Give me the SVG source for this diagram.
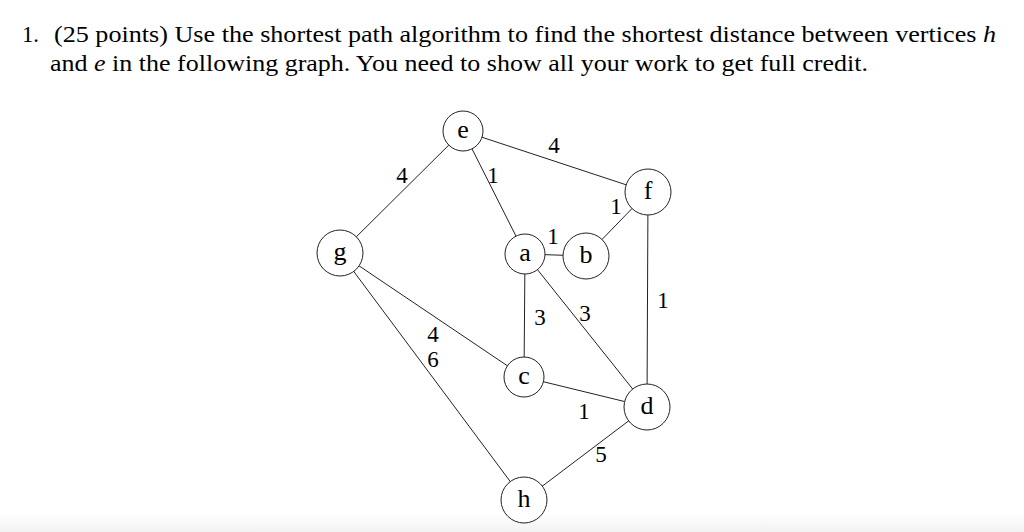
<svg xmlns="http://www.w3.org/2000/svg" width="1024" height="532" viewBox="0 0 1024 532">
<defs>
<linearGradient id="bar" x1="0" y1="0" x2="0" y2="1">
<stop offset="0" stop-color="#ffffff"/>
<stop offset="1" stop-color="#f2f2f2"/>
</linearGradient>
</defs>
<style>
text{font-family:"Liberation Serif","Times New Roman",serif;fill:#000}
.t{font-size:23px}
.lbl{font-size:23px;text-anchor:middle}
.nl{font-size:26px;text-anchor:middle}
.edge line{stroke:#222;stroke-width:1}
.node circle{fill:#fff;stroke:#222;stroke-width:1}
</style>
<rect width="1024" height="532" fill="#fff"/>
<rect x="0" y="514" width="1024" height="18" fill="url(#bar)"/>
<text class="t" x="22" y="42" textLength="17" lengthAdjust="spacingAndGlyphs">1.</text>
<text class="t" x="54" y="42" textLength="942" lengthAdjust="spacingAndGlyphs">(25 points) Use the shortest path algorithm to find the shortest distance between vertices <tspan font-style="italic">h</tspan></text>
<text class="t" x="50" y="71" textLength="818" lengthAdjust="spacingAndGlyphs">and <tspan font-style="italic">e</tspan> in the following graph. You need to show all your work to get full credit.</text>
<g class="edge" id="edges">
<line x1="463" y1="131" x2="340" y2="253"/>
<line x1="463" y1="131" x2="525" y2="254"/>
<line x1="463" y1="131" x2="648" y2="192"/>
<line x1="525" y1="254" x2="586" y2="256"/>
<line x1="586" y1="256" x2="648" y2="192"/>
<line x1="648" y1="192" x2="647" y2="407"/>
<line x1="525" y1="254" x2="524" y2="377"/>
<line x1="525" y1="254" x2="647" y2="407"/>
<line x1="340" y1="253" x2="524" y2="377"/>
<line x1="340" y1="253" x2="524" y2="500"/>
<line x1="524" y1="377" x2="647" y2="407"/>
<line x1="524" y1="500" x2="647" y2="407"/>
</g>
<g id="labels">
<text class="lbl" x="402" y="183">4</text>
<text class="lbl" x="493" y="183">1</text>
<text class="lbl" x="554" y="153">4</text>
<text class="lbl" x="616" y="214">1</text>
<text class="lbl" x="553" y="244">1</text>
<text class="lbl" x="663" y="308">1</text>
<text class="lbl" x="540" y="325">3</text>
<text class="lbl" x="585" y="321">3</text>
<text class="lbl" x="433" y="342">4</text>
<text class="lbl" x="433" y="367">6</text>
<text class="lbl" x="584" y="419">1</text>
<text class="lbl" x="601" y="462">5</text>
</g>
<g class="node" id="node-e"><circle cx="463" cy="131" r="20"/><text class="nl" x="463" y="138">e</text></g>
<g class="node" id="node-g"><circle cx="340" cy="253" r="23"/><text class="nl" x="340" y="260">g</text></g>
<g class="node" id="node-a"><circle cx="525" cy="254" r="20"/><text class="nl" x="525" y="261">a</text></g>
<g class="node" id="node-b"><circle cx="586" cy="256" r="23"/><text class="nl" x="586" y="263">b</text></g>
<g class="node" id="node-f"><circle cx="648" cy="192" r="23"/><text class="nl" x="648" y="199">f</text></g>
<g class="node" id="node-c"><circle cx="524" cy="377" r="20"/><text class="nl" x="524" y="384">c</text></g>
<g class="node" id="node-d"><circle cx="647" cy="407" r="23"/><text class="nl" x="647" y="414">d</text></g>
<g class="node" id="node-h"><circle cx="524" cy="500" r="23"/><text class="nl" x="524" y="507">h</text></g>
</svg>
